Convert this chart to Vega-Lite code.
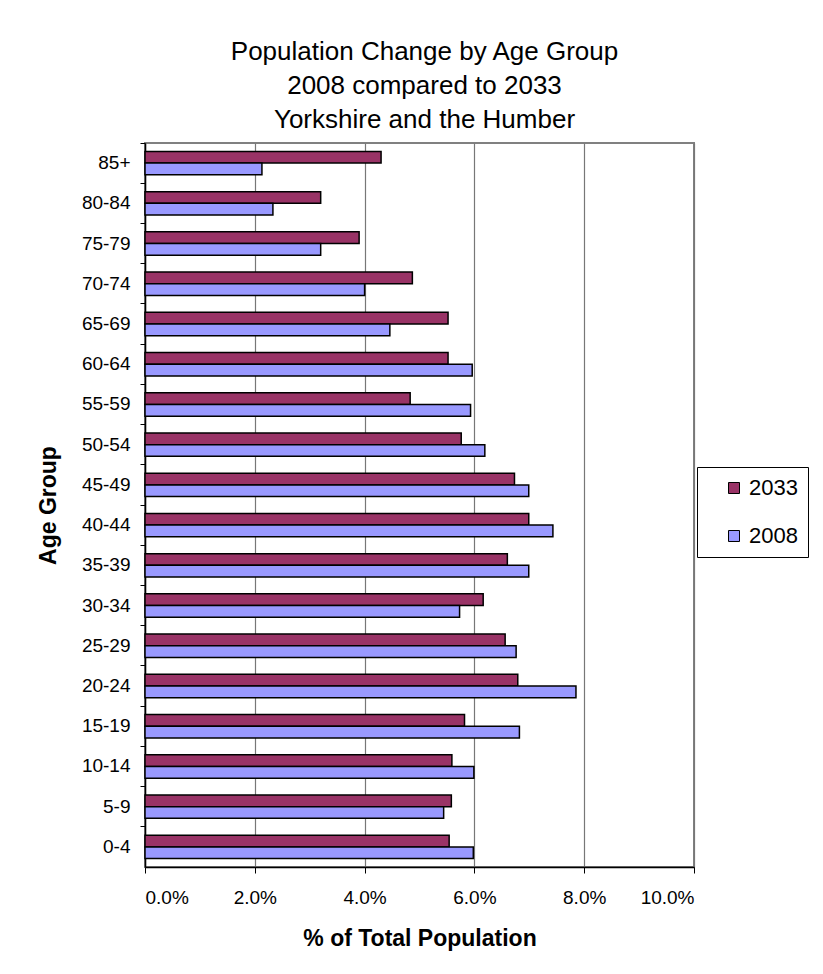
{
  "$schema": "https://vega.github.io/schema/vega-lite/v6.json",
  "autosize": {"type": "none"},
  "width": 549,
  "height": 724,
  "padding": {"left": 145, "top": 143, "right": 129, "bottom": 107},
  "background": "white",
  "config": {
    "font": "Liberation Sans",
    "view": {"stroke": "#808080", "strokeWidth": 2},
    "axis": {"labelColor": "black", "titleColor": "black", "domainColor": "black", "tickColor": "black", "labelFont": "Liberation Sans", "titleFont": "Liberation Sans"}
  },
  "title": {
    "text": ["Population Change by Age Group", "2008 compared to 2033", "Yorkshire and the Humber"],
    "font": "Liberation Sans",
    "fontSize": 26,
    "fontWeight": "normal",
    "color": "black",
    "lineHeight": 34,
    "anchor": "middle",
    "dx": 5,
    "offset": 10
  },
  "data": {
    "values": [
      {"age": "85+", "year": "2033", "share": 0.0430},
      {"age": "85+", "year": "2008", "share": 0.0213},
      {"age": "80-84", "year": "2033", "share": 0.0320},
      {"age": "80-84", "year": "2008", "share": 0.0233},
      {"age": "75-79", "year": "2033", "share": 0.0390},
      {"age": "75-79", "year": "2008", "share": 0.0320},
      {"age": "70-74", "year": "2033", "share": 0.0487},
      {"age": "70-74", "year": "2008", "share": 0.0400},
      {"age": "65-69", "year": "2033", "share": 0.0552},
      {"age": "65-69", "year": "2008", "share": 0.0446},
      {"age": "60-64", "year": "2033", "share": 0.0552},
      {"age": "60-64", "year": "2008", "share": 0.0596},
      {"age": "55-59", "year": "2033", "share": 0.0483},
      {"age": "55-59", "year": "2008", "share": 0.0593},
      {"age": "50-54", "year": "2033", "share": 0.0576},
      {"age": "50-54", "year": "2008", "share": 0.0619},
      {"age": "45-49", "year": "2033", "share": 0.0673},
      {"age": "45-49", "year": "2008", "share": 0.0699},
      {"age": "40-44", "year": "2033", "share": 0.0699},
      {"age": "40-44", "year": "2008", "share": 0.0743},
      {"age": "35-39", "year": "2033", "share": 0.0660},
      {"age": "35-39", "year": "2008", "share": 0.0699},
      {"age": "30-34", "year": "2033", "share": 0.0616},
      {"age": "30-34", "year": "2008", "share": 0.0573},
      {"age": "25-29", "year": "2033", "share": 0.0656},
      {"age": "25-29", "year": "2008", "share": 0.0676},
      {"age": "20-24", "year": "2033", "share": 0.0679},
      {"age": "20-24", "year": "2008", "share": 0.0785},
      {"age": "15-19", "year": "2033", "share": 0.0582},
      {"age": "15-19", "year": "2008", "share": 0.0682},
      {"age": "10-14", "year": "2033", "share": 0.0559},
      {"age": "10-14", "year": "2008", "share": 0.0599},
      {"age": "5-9", "year": "2033", "share": 0.0558},
      {"age": "5-9", "year": "2008", "share": 0.0544},
      {"age": "0-4", "year": "2033", "share": 0.0554},
      {"age": "0-4", "year": "2008", "share": 0.0598}
    ]
  },
  "mark": {"type": "bar", "stroke": "black", "strokeWidth": 1.5},
  "encoding": {
    "y": {
      "field": "age",
      "type": "nominal",
      "sort": null,
      "scale": {"paddingInner": 0, "paddingOuter": 0},
      "axis": {
        "title": "Age Group",
        "titleFontSize": 23,
        "titleFontWeight": "bold",
        "titlePadding": 21,
        "labelFontSize": 19,
        "labelPadding": 10,
        "tickSize": 5,
        "bandPosition": 0,
        "domainWidth": 1.5,
        "grid": false
      }
    },
    "yOffset": {
      "field": "year",
      "type": "nominal",
      "scale": {"domain": ["2033", "2008"], "paddingInner": 0, "paddingOuter": 0.72}
    },
    "x": {
      "field": "share",
      "type": "quantitative",
      "scale": {"domain": [0, 0.1], "nice": false},
      "axis": {
        "title": "% of Total Population",
        "titleFontSize": 23,
        "titleFontWeight": "bold",
        "titlePadding": 20,
        "format": ".1%",
        "values": [0, 0.02, 0.04, 0.06, 0.08, 0.1],
        "labelFontSize": 19,
        "labelPadding": 15,
        "tickSize": 6,
        "domainWidth": 1.5,
        "grid": true,
        "gridColor": "#777777",
        "gridWidth": 1.2
      }
    },
    "color": {
      "field": "year",
      "type": "nominal",
      "scale": {"domain": ["2033", "2008"], "range": ["#993366", "#9999FF"]},
      "legend": {
        "title": null,
        "orient": "none",
        "legendX": 552,
        "legendY": 324,
        "strokeColor": "black",
        "fillColor": "white",
        "padding": 10,
        "symbolOffset": 16,
        "symbolType": "square",
        "symbolSize": 121,
        "symbolStrokeColor": "black",
        "symbolStrokeWidth": 1,
        "labelFontSize": 22,
        "labelColor": "black",
        "labelFont": "Liberation Sans",
        "rowPadding": 26,
        "labelOffset": 4
      }
    }
  }
}
